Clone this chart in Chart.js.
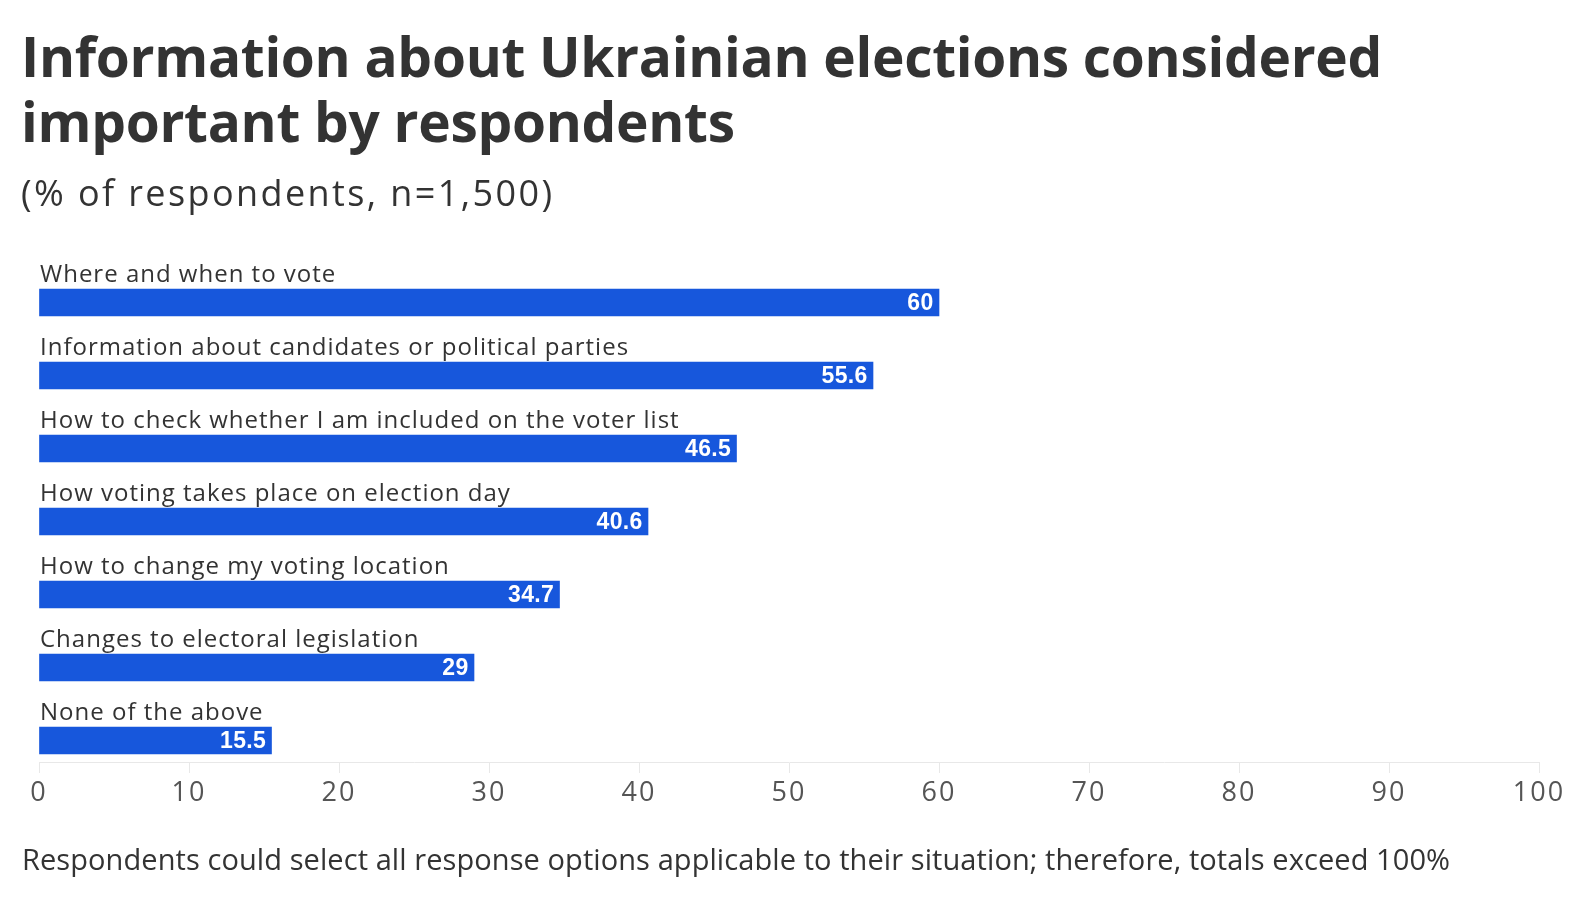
<!DOCTYPE html>
<html>
<head>
<meta charset="utf-8">
<script src="https://cdn.jsdelivr.net/npm/chart.js@4.4.1/dist/chart.umd.min.js"></script>
<style>
  html, body { margin: 0; padding: 0; background: #ffffff; }
  #page { position: relative; width: 1590px; height: 898px; overflow: hidden; background: #fff; }
  .txt { position: absolute; left: 21px; color: #333333; font-family: "Open Sans", sans-serif; white-space: nowrap; }
  #title { top: 23px; font-size: 55px; font-weight: 700; line-height: 65px; letter-spacing: -0.3px; }
  #subtitle { top: 175px; font-size: 36px; line-height: 35px; font-weight: 400; letter-spacing: 2.4px; }
  #note { top: 845px; font-size: 29px; line-height: 28px; font-weight: 400; left: 22px; letter-spacing: 0.08px; }
  #wrap { position: absolute; left: 0; top: 0; width: 1590px; height: 898px; }
</style>
</head>
<body>
<div id="page">
  <div id="wrap"><canvas id="chart"></canvas></div>
  <div id="title" class="txt">Information about Ukrainian elections considered<br>important by respondents</div>
  <div id="subtitle" class="txt">(% of respondents, n=1,500)</div>
  <div id="note" class="txt">Respondents could select all response options applicable to their situation; therefore, totals exceed 100%</div>
</div>
<script>
const categories = [
  "Where and when to vote",
  "Information about candidates or political parties",
  "How to check whether I am included on the voter list",
  "How voting takes place on election day",
  "How to change my voting location",
  "Changes to electoral legislation",
  "None of the above"
];
const values = [60, 55.6, 46.5, 40.6, 34.7, 29, 15.5];
const xTicks = [0, 10, 20, 30, 40, 50, 60, 70, 80, 90, 100];

const BAR_COLOR = "#1757dc";
const TEXT_COLOR = "#333333";

const spacingPlugin = {
  id: "tickSpacing",
  beforeDraw(chart) { chart.ctx.letterSpacing = "2px"; }
};

const labelPlugin = {
  id: "barLabels",
  afterDatasetsDraw(chart) {
    const ctx = chart.ctx;
    const meta = chart.getDatasetMeta(0);
    const area = chart.chartArea;
    ctx.save();
    meta.data.forEach((bar, i) => {
      const top = bar.y - bar.height / 2;
      // category label above bar
      ctx.letterSpacing = "1px";
      ctx.font = '400 24px "Open Sans", sans-serif';
      ctx.fillStyle = TEXT_COLOR;
      ctx.textAlign = "left";
      ctx.textBaseline = "alphabetic";
      ctx.fillText(categories[i], area.left + 1, top - 7);
      // value label inside bar end
      ctx.letterSpacing = "0.3px";
      ctx.font = '700 23px "Liberation Sans", Arial, sans-serif';
      ctx.fillStyle = "#ffffff";
      ctx.textAlign = "right";
      ctx.textBaseline = "middle";
      ctx.fillText(String(values[i]), bar.x - 5.5, bar.y + 1);
    });
    ctx.restore();
  }
};

new Chart(document.getElementById("chart"), {
  type: "bar",
  data: {
    datasets: [{
      data: values.map((v, i) => ({ x: v, y: i })),
      backgroundColor: BAR_COLOR,
      borderWidth: 0,
      barThickness: 27
    }]
  },
  options: {
    indexAxis: "y",
    responsive: true,
    maintainAspectRatio: false,
    animation: false,
    layout: { padding: { left: 39, right: 51, top: 266, bottom: 86 } },
    plugins: { legend: { display: false }, tooltip: { enabled: false }, title: { display: false } },
    scales: {
      y: {
        type: "linear",
        reverse: true,
        offset: false,
        min: -0.5,
        max: 6.295,
        display: false
      },
      x: {
        type: "linear",
        min: 0,
        max: 100,
        afterBuildTicks: (scale) => { scale.ticks = xTicks.map(v => ({ value: v })); },
        afterFit: (scale) => { scale.height = 50; },
        border: { display: true, color: "#e8e8e8", width: 1 },
        grid: { drawOnChartArea: false, drawTicks: true, tickLength: 11, color: "#e8e8e8" },
        ticks: {
          color: "#555555",
          padding: 4,
          font: { family: '"Open Sans", sans-serif', size: 27 },
          maxRotation: 0,
          callback: (v) => String(v)
        }
      }
    }
  },
  plugins: [spacingPlugin, labelPlugin]
});
</script>
</body>
</html>
